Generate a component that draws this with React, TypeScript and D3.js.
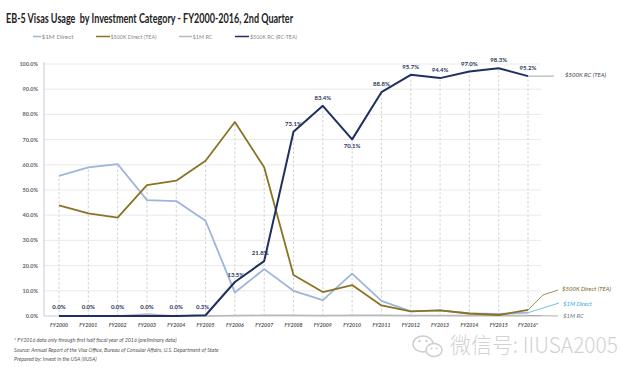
import React from "react";
import * as d3 from "d3";

const categories = ["FY2000","FY2001","FY2002","FY2003","FY2004","FY2005","FY2006","FY2007","FY2008","FY2009","FY2010","FY2011","FY2012","FY2013","FY2014","FY2015","FY2016*"];
const oneMDirect = [55.6, 59.0, 60.3, 46.0, 45.6, 37.8, 9.3, 18.6, 10.0, 6.3, 16.8, 6.0, 1.8, 2.2, 1.0, 0.8, 1.3];
const fiveKDirect = [43.9, 40.7, 39.0, 51.9, 53.7, 61.6, 77.0, 59.0, 16.3, 9.5, 12.3, 4.2, 1.8, 2.2, 1.0, 0.4, 2.4];
const oneMRC = [0, 0, 0, 0.8, 0, 0, 0.2, 0.3, 0.3, 0.2, 0.3, 0.3, 0.2, 0.2, 0.2, 0.2, 0.2];
const fiveKRC = [0, 0, 0, 0, 0, 0.3, 13.5, 21.8, 73.1, 83.4, 70.1, 88.8, 95.7, 94.4, 97.0, 98.3, 95.2];
const yTicks = [0, 10, 20, 30, 40, 50, 60, 70, 80, 90, 100];

const seriesDefs = [
  { name: "$1M Direct", values: oneMDirect, color: "#9db5da", width: 1.8 },
  { name: "$500K Direct (TEA)", values: fiveKDirect, color: "#8a7324", width: 1.8 },
  { name: "$1M RC", values: oneMRC, color: "#b9b9b9", width: 1.4 },
  { name: "$500K RC (RC-TEA)", values: fiveKRC, color: "#1f2f5f", width: 2 },
];

const font = "Lato, 'Open Sans', sans-serif";

export default function App() {
  const x = d3.scalePoint<string>().domain(categories).range([59, 528]);
  const y = d3.scaleLinear().domain([0, 100]).range([316, 64]);
  const line = d3.line<number>().x((_, i) => x(categories[i]) as number).y((d) => y(d));
  const last = categories.length - 1;
  const xl = x(categories[last]) as number;

  const legendItems = [
    { x0: 33, x1: 41, tx: 41.5, tl: 32 },
    { x0: 96, x1: 110, tx: 110.5, tl: 46 },
    { x0: 179, x1: 192, tx: 192.5, tl: 20 },
    { x0: 235, x1: 249, tx: 250, tl: 47 },
  ];

  const labelPos = (i: number) => {
    let dx = 0, dy = -6;
    if (i === 5) dx = -3;
    if (i === 6) { dx = 1; dy = -5; }
    if (i === 7) { dx = -4; dy = -6; }
    if (i === 10) dy = 9;
    if (i <= 4) dy = -7;
    return { dx, dy };
  };

  return (
    <svg width={640} height={379} style={{ position: "absolute", left: 0, top: 0, background: "#fff" }} fontFamily={font}>
      <rect width={640} height={379} fill="#fff" />
      <text x={6} y={23} fontSize={12.3} fontWeight="bold" fill="#222" textLength={287} lengthAdjust="spacingAndGlyphs" style={{ whiteSpace: "pre" }}>
        {"EB-5 Visas Usage  by Investment Category - FY2000-2016, 2nd Quarter"}
      </text>

      {seriesDefs.map((s, k) => (
        <g key={s.name}>
          <line x1={legendItems[k].x0} x2={legendItems[k].x1} y1={36.5} y2={36.5} stroke={s.color} strokeWidth={1.5} />
          <text x={legendItems[k].tx} y={38.5} fontSize={5.5} fill="#888" textLength={legendItems[k].tl} lengthAdjust="spacingAndGlyphs">{s.name}</text>
        </g>
      ))}

      {yTicks.map((t) => (
        <g key={t}>
          {t > 0 && <line x1={44} x2={541} y1={y(t)} y2={y(t)} stroke="#e4e4e4" strokeWidth={0.8} />}
          <text x={38} y={y(t) + 2} fontSize={5.5} fontWeight="bold" fill="#666" textAnchor="end">{t.toFixed(1)}%</text>
        </g>
      ))}

      {categories.map((c, i) => {
        const mx = Math.max(oneMDirect[i], fiveKDirect[i], oneMRC[i], fiveKRC[i]);
        return (
          <g key={c}>
            <line x1={x(c)} x2={x(c)} y1={y(0)} y2={y(mx)} stroke="#c8c8c8" strokeWidth={0.8} strokeDasharray="2.5,2" />
            <text x={x(c)} y={327} fontSize={5.2} fontWeight="bold" fontStyle="italic" fill="#555" textAnchor="middle">{c}</text>
          </g>
        );
      })}

      <line x1={44} x2={44} y1={62} y2={316} stroke="#c5cad6" strokeWidth={1} />
      <line x1={44} x2={541} y1={316} y2={316} stroke="#c5cad6" strokeWidth={1} />

      {[2, 0, 1, 3].map((k) => {
        const s = seriesDefs[k];
        return <path key={s.name} d={line(s.values) || ""} fill="none" stroke={s.color} strokeWidth={s.width} strokeLinejoin="round" />;
      })}

      {fiveKRC.map((v, i) => {
        const p = labelPos(i);
        return (
          <text key={i} x={(x(categories[i]) as number) + p.dx} y={y(v) + p.dy} fontSize={6} fontWeight="bold" fill="#2a3558" textAnchor="middle">
            {v.toFixed(1)}%
          </text>
        );
      })}

      {/* end labels */}
      <line x1={xl} x2={554} y1={y(fiveKRC[last])} y2={y(fiveKRC[last])} stroke="#8a8f9f" strokeWidth={0.8} />
      <text x={565} y={77} fontSize={6} fontStyle="italic" fill="#3b4260">$500K RC (TEA)</text>

      <polyline points={`${xl},${y(fiveKDirect[last])} 543,295 558,290`} fill="none" stroke="#8a7324" strokeWidth={0.8} />
      <text x={562} y={291} fontSize={6} fontStyle="italic" fill="#7a6526">$500K Direct (TEA)</text>

      <line x1={xl} x2={559} y1={y(oneMDirect[last])} y2={303} stroke="#4fb0e0" strokeWidth={0.8} />
      <text x={563} y={306} fontSize={6} fontStyle="italic" fill="#3aa8e0">$1M Direct</text>

      <line x1={xl} x2={558} y1={y(oneMRC[last])} y2={316} stroke="#999" strokeWidth={0.8} />
      <text x={563} y={318} fontSize={6} fontStyle="italic" fill="#777">$1M RC</text>

      {/* footnotes */}
      <g fontSize={5.3} fontStyle="italic" fill="#555">
        <text x={14} y={342}>* FY2016 data only through first half fiscal year of 2016 (preliminary data)</text>
        <text x={14} y={352}>Source: Annual Report of the Visa Office, Bureau of Consular Affairs, U.S. Department of State</text>
        <text x={14} y={361}>Prepared by: Invest in the USA (IIUSA)</text>
      </g>

      {/* watermark */}
      <g stroke="#cdcdcd" strokeWidth={1.4} fill="none">
        <ellipse cx={423} cy={344} rx={10} ry={8} />
        <ellipse cx={434} cy={350} rx={8} ry={6.5} fill="#fff" />
        <circle cx={419.5} cy={341} r={1.2} fill="#cdcdcd" stroke="none" />
        <circle cx={426.5} cy={341} r={1.2} fill="#cdcdcd" stroke="none" />
        <circle cx={431.5} cy={348.5} r={1} fill="#cdcdcd" stroke="none" />
        <circle cx={436.5} cy={348.5} r={1} fill="#cdcdcd" stroke="none" />
      </g>
      <text x={450} y={353} fontSize={22} fontWeight={300} fill="#d2d2d2" fontFamily="'Noto Sans CJK SC', sans-serif" textLength={168} lengthAdjust="spacingAndGlyphs">微信号: IIUSA2005</text>
    </svg>
  );
}
